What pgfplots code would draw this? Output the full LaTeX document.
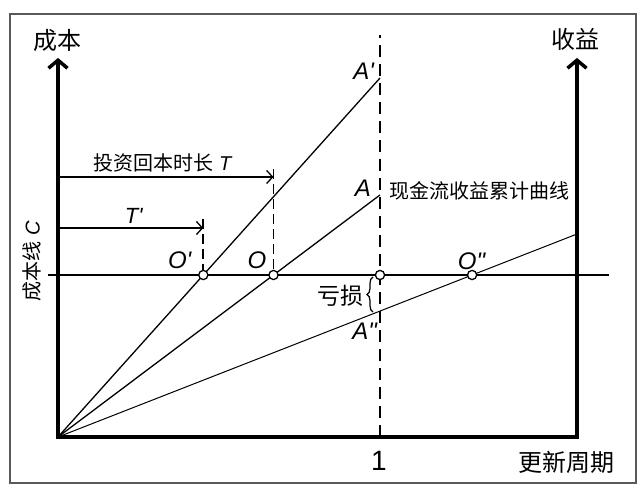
\documentclass[border=0pt]{standalone}
\usepackage{fontspec}
\setmainfont{Liberation Sans}
\newfontfamily\cjk{Noto Sans CJK SC}
\usepackage{pgfplots}
\pgfplotsset{compat=1.18}
\usetikzlibrary{arrows.meta,decorations.pathreplacing}
\newcommand{\fs}[1]{\fontsize{#1bp}{#1bp}\selectfont}
\begin{document}
\begin{tikzpicture}
\begin{axis}[
  at={(0,0)}, anchor=south west,
  scale only axis, width=644bp, height=495bp,
  xmin=-0.18012, xmax=1.81988, ymin=-0.3580, ymax=2.6975,
  hide axis, clip=false,
  every node/.style={inner sep=0pt},
]
\path (rel axis cs:0,0) rectangle (rel axis cs:1,1);
% frame
\draw[line width=1.3bp, color=black!65] (axis cs:-0.1491,-0.284) rectangle (axis cs:1.795,2.6111);
% main dashed line at x=1
\addplot[line width=2.2bp, dash pattern=on 12bp off 7bp] coordinates {(1,0) (1,2.481)};
% cost line
\addplot[line width=2.3bp] coordinates {(-0.031,1) (1.7112,1)};
% revenue lines
\addplot[line width=1.3bp] coordinates {(0,0) (1,2.216)};
\addplot[line width=1.3bp] coordinates {(0,0) (1,1.494)};
\addplot[line width=1bp] coordinates {(0,0) (1.6118,1.253)};
% axes
\addplot[line width=3.5bp, line join=miter, {Straight Barb[length=8bp,width=19bp]}-{Straight Barb[length=8bp,width=19bp]}]
  coordinates {(0,2.34) (0,0) (1.6118,0) (1.6118,2.34)};
% payback arrows
\addplot[line width=1.3bp, -{Straight Barb[length=6bp,width=13bp]}] coordinates {(0,1.605) (0.6693,1.605)};
\addplot[line width=1.3bp, -{Straight Barb[length=6bp,width=13bp]}] coordinates {(0,1.290) (0.4513,1.290)};
\addplot[line width=1.9bp, dash pattern=on 10bp off 5bp] coordinates {(0.6693,1.654) (0.6693,1)};
\addplot[line width=1.9bp, dash pattern=on 10bp off 5bp] coordinates {(0.4513,1.346) (0.4513,1)};
% break-even points
\addplot[only marks, mark=*, mark size=4.6bp, mark options={fill=white, draw=black, line width=1.3bp}]
  coordinates {(0.4513,1) (0.6693,1) (1,1) (1.286,1)};
% brace
\draw[line width=1.2bp, decorate, decoration={brace, amplitude=6bp}] (axis cs:0.9783,0.7716) -- (axis cs:0.9783,0.9877);
% labels
\node at (axis cs:0,2.4506) {\cjk\fs{24}成本};
\node at (axis cs:1.6056,2.4568) {\cjk\fs{24}收益};
\node at (axis cs:1.5807,-0.1543) {\cjk\fs{24}更新周期};
\node at (axis cs:0.9969,-0.148) {\fs{28}1};
\node at (axis cs:0.9503,2.2593) {\fs{24}\textit{A\textquotesingle}};
\node at (axis cs:0.9472,1.537) {\fs{24}\textit{A}};
\node at (axis cs:0.9534,0.6543) {\fs{24}\textit{A\textquotedbl}};
\node at (axis cs:0.3789,1.0926) {\fs{24}\textit{O\textquotesingle}};
\node at (axis cs:0.618,1.0926) {\fs{24}\textit{O}};
\node at (axis cs:1.2857,1.0864) {\fs{24}\textit{O\textquotedbl}};
\node at (axis cs:0.236,1.3642) {\fs{22}\textit{T\textquotesingle}};
\node at (axis cs:0.3261,1.6914) {\fs{20}{\cjk 投资回本时长} \textit{T}};
\node[anchor=west] at (axis cs:1.0186,1.5185) {\cjk\fs{20}现金流收益累计曲线};
\node at (axis cs:0.8758,0.8704) {\cjk\fs{23}亏损};
\node[rotate=90] at (axis cs:-0.0807,1.0864) {\fs{20}{\cjk 成本线} \textit{C}};
\end{axis}
\end{tikzpicture}
\end{document}
